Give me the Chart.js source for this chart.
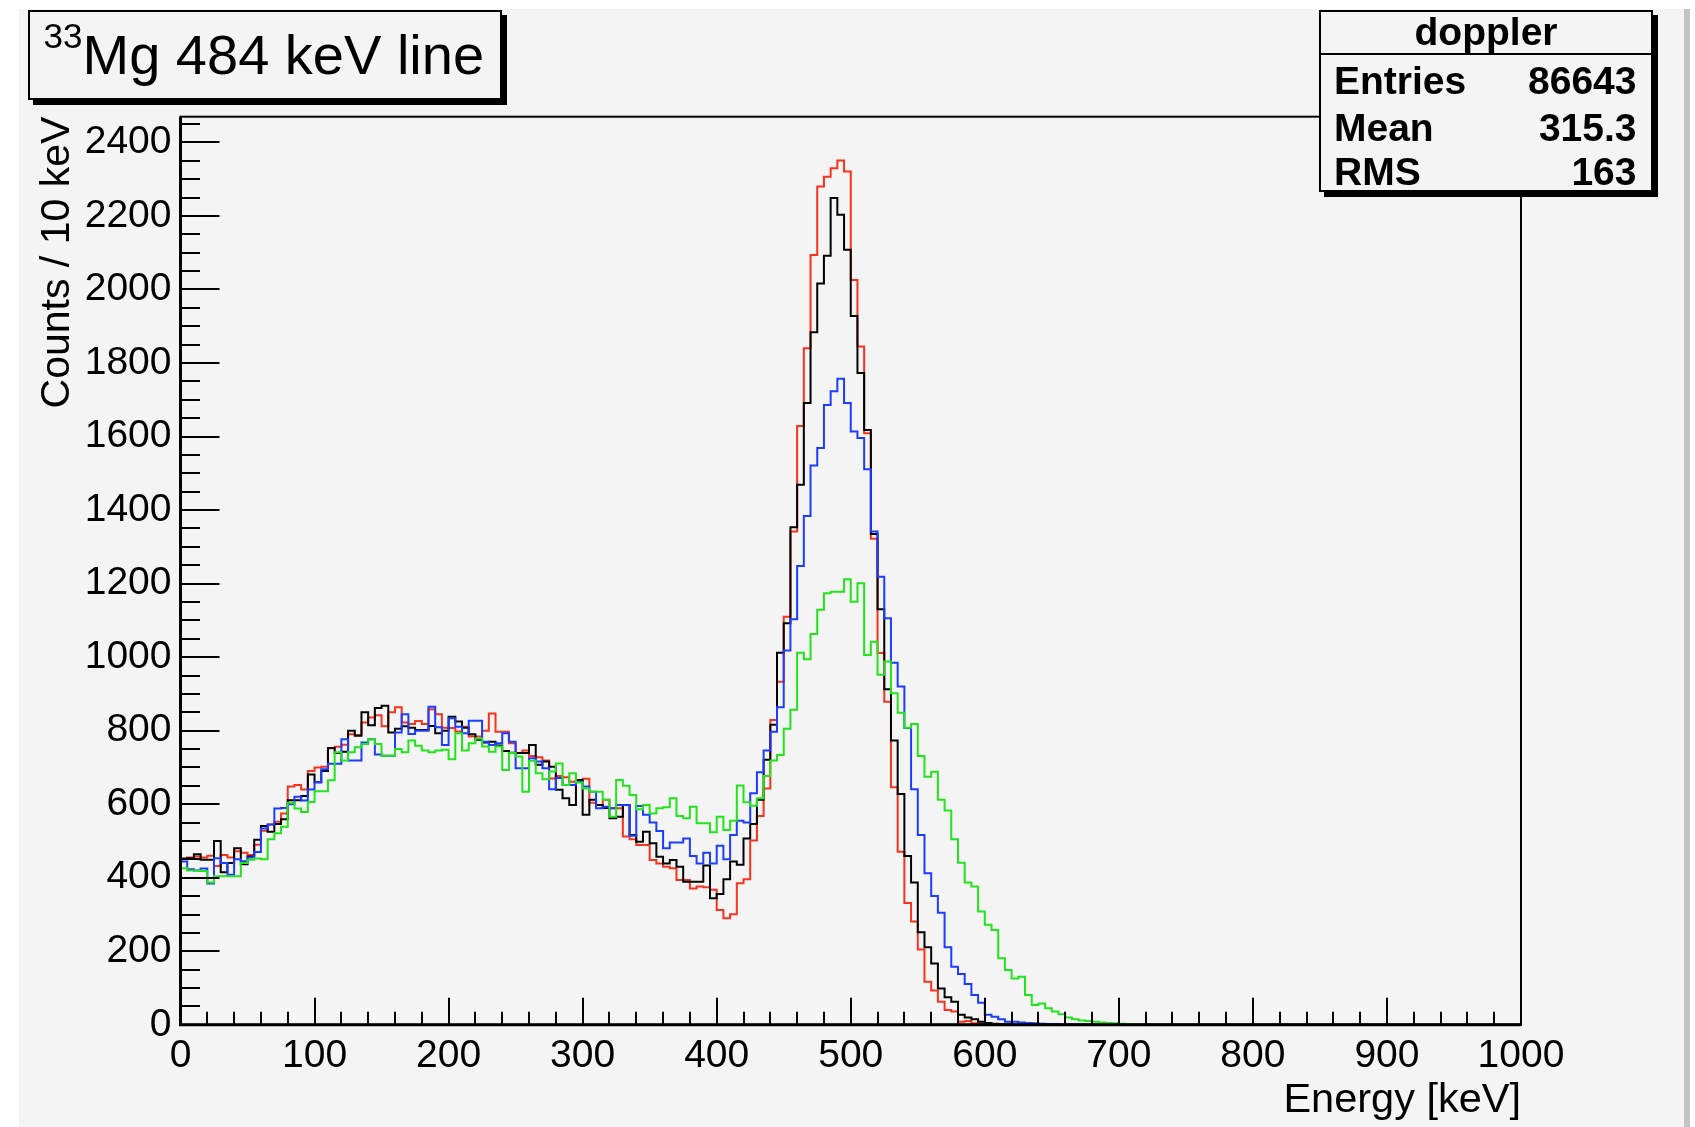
<!DOCTYPE html>
<html>
<head>
<meta charset="utf-8">
<script src="https://cdn.jsdelivr.net/npm/chart.js@4.4.1/dist/chart.umd.min.js"></script>
<style>
  html, body { margin: 0; padding: 0; background: #fff; }
  body { width: 1695px; height: 1127px; position: relative; overflow: hidden;
         font-family: "Liberation Sans", Arial, Helvetica, sans-serif; color: #000; }
  #pad { position: absolute; left: 19px; top: 9px; width: 1665px; height: 1118px;
         background: #f4f4f4; border-right: 6px solid #c4c4c4; }
  #chart { position: absolute; left: 0; top: 0; }
  .box { position: absolute; background: #f4f4f4; border: 2px solid #000;
         box-shadow: 5px 5px 0 #000; box-sizing: border-box; }
  .t { position: absolute; line-height: 1; white-space: nowrap; }
  .b { font-weight: bold; font-size: 39px; }
</style>
</head>
<body>
<div id="pad"></div>
<canvas id="chart" width="1695" height="1127"></canvas>

<div class="box" style="left:28px; top:10px; width:474px; height:90px;">
  <span class="t" style="left:13.5px; top:6px; font-size:35px;">33</span>
  <span class="t" style="left:52.5px; top:14.5px; font-size:56px;">Mg 484 keV line</span>
</div>

<div class="box" style="left:1319px; top:10px; width:334px; height:182px;">
  <span class="t b" style="left:0; width:100%; text-align:center; top:0;">doppler</span>
  <div style="position:absolute; left:0; right:0; top:41px; height:2px; background:#000;"></div>
  <span class="t b" style="left:13px; top:49px;">Entries</span>
  <span class="t b" style="right:14.5px; top:49px;">86643</span>
  <span class="t b" style="left:13px; top:95.5px;">Mean</span>
  <span class="t b" style="right:14.5px; top:95.5px;">315.3</span>
  <span class="t b" style="left:13px; top:140px;">RMS</span>
  <span class="t b" style="right:14.5px; top:140px;">163</span>
</div>

<script>
// 5 keV bins from 0 to 1000 keV (200 bins)
const binWidth = 5;

const red = [
  450, 455, 458, 455, 460, 432, 462, 455, 472, 468,
  462, 490, 528, 545, 552, 575, 648, 652, 640, 690,
  700, 702, 752, 756, 762, 790, 788, 822, 836, 842,
  812, 850, 864, 822, 818, 826, 818, 858, 845, 808,
  807, 798, 811, 784, 784, 800, 847, 797, 797, 766,
  739, 746, 731, 728, 719, 670, 677, 673, 661, 666,
  669, 604, 598, 612, 589, 589, 512, 505, 489, 489,
  448, 439, 430, 426, 394, 394, 371, 376, 374, 367,
  312, 290, 301, 385, 396, 501, 568, 643, 829, 933,
  1110, 1342, 1629, 1840, 2094, 2280, 2307, 2330, 2351, 2321,
  2026, 1845, 1609, 1322, 1011, 879, 646, 471, 331, 281,
  205, 117, 93, 63, 40, 36, 8, 10, 4, 3,
  2, 1, 1, 0, 0, 0, 0, 0, 0, 0,
  0, 0, 0, 0, 0, 0, 0, 0, 0, 0,
  0, 0, 0, 0, 0, 0, 0, 0, 0, 0,
  0, 0, 0, 0, 0, 0, 0, 0, 0, 0,
  0, 0, 0, 0, 0, 0, 0, 0, 0, 0,
  0, 0, 0, 0, 0, 0, 0, 0, 0, 0,
  0, 0, 0, 0, 0, 0, 0, 0, 0, 0,
  0, 0, 0, 0, 0, 0, 0, 0, 0, 0
];

const black = [
  452, 453, 464, 449, 449, 500, 415, 440, 480, 437,
  458, 503, 541, 525, 546, 559, 611, 611, 622, 681,
  660, 690, 753, 739, 743, 800, 786, 850, 815, 862,
  868, 795, 805, 812, 808, 802, 802, 813, 793, 800,
  838, 825, 808, 790, 775, 768, 770, 760, 745, 740,
  739, 739, 761, 707, 716, 702, 639, 616, 598, 666,
  571, 612, 598, 590, 562, 566, 598, 516, 498, 525,
  494, 457, 439, 448, 430, 389, 389, 389, 433, 344,
  356, 396, 444, 435, 507, 546, 612, 721, 816, 1012,
  1092, 1353, 1469, 1691, 1884, 2016, 2092, 2249, 2203, 2108,
  1928, 1773, 1618, 1335, 1130, 913, 773, 628, 459, 387,
  252, 211, 167, 99, 75, 63, 27, 20, 15, 8,
  5, 3, 2, 1, 0, 0, 0, 0, 0, 0,
  0, 0, 0, 0, 0, 0, 0, 0, 0, 0,
  0, 0, 0, 0, 0, 0, 0, 0, 0, 0,
  0, 0, 0, 0, 0, 0, 0, 0, 0, 0,
  0, 0, 0, 0, 0, 0, 0, 0, 0, 0,
  0, 0, 0, 0, 0, 0, 0, 0, 0, 0,
  0, 0, 0, 0, 0, 0, 0, 0, 0, 0,
  0, 0, 0, 0, 0, 0, 0, 0, 0, 0
];

const blue = [
  444, 423, 420, 425, 384, 453, 440, 408, 450, 445,
  455, 470, 534, 545, 588, 590, 600, 620, 610, 640,
  660, 695, 710, 710, 777, 719, 719, 768, 777, 735,
  732, 732, 795, 845, 791, 800, 800, 865, 809, 761,
  834, 811, 793, 827, 827, 770, 761, 766, 793, 770,
  698, 698, 725, 716, 698, 641, 671, 652, 652, 661,
  648, 634, 589, 593, 589, 598, 598, 514, 595, 571,
  550, 527, 480, 496, 496, 507, 459, 439, 468, 439,
  487, 450, 516, 555, 550, 630, 687, 746, 797, 864,
  1018, 1103, 1248, 1384, 1521, 1569, 1686, 1723, 1757, 1691,
  1614, 1596, 1511, 1342, 1219, 1106, 985, 920, 807, 641,
  516, 412, 350, 305, 211, 158, 138, 111, 81, 60,
  27, 22, 15, 8, 8, 6, 5, 4, 3, 2,
  2, 1, 1, 1, 1, 0, 0, 0, 0, 0,
  0, 0, 0, 0, 0, 0, 0, 0, 0, 0,
  0, 0, 0, 0, 0, 0, 0, 0, 0, 0,
  0, 0, 0, 0, 0, 0, 0, 0, 0, 0,
  0, 0, 0, 0, 0, 0, 0, 0, 0, 0,
  0, 0, 0, 0, 0, 0, 0, 0, 0, 0,
  0, 0, 0, 0, 0, 0, 0, 0, 0, 0
];

const green = [
  426, 420, 420, 418, 387, 404, 404, 404, 404, 440,
  449, 452, 450, 505, 521, 539, 604, 588, 579, 606,
  635, 635, 665, 741, 719, 741, 755, 764, 777, 764,
  732, 732, 750, 741, 773, 759, 746, 741, 746, 748,
  722, 793, 746, 766, 779, 757, 743, 757, 693, 739,
  730, 634, 718, 684, 668, 689, 711, 652, 684, 659,
  643, 634, 634, 612, 566, 666, 650, 625, 586, 598,
  575, 589, 592, 616, 568, 562, 593, 548, 548, 524,
  566, 530, 555, 651, 605, 596, 616, 677, 719, 734,
  805, 857, 1012, 994, 1063, 1129, 1174, 1178, 1178, 1212,
  1151, 1201, 1006, 1042, 952, 988, 902, 849, 808, 818,
  731, 675, 688, 612, 583, 505, 441, 387, 376, 308,
  272, 258, 181, 149, 126, 131, 81, 54, 58, 45,
  36, 29, 20, 15, 12, 10, 8, 6, 5, 4,
  3, 2, 2, 1, 1, 0, 0, 0, 0, 0,
  0, 0, 0, 0, 0, 0, 0, 0, 0, 0,
  0, 0, 0, 0, 0, 0, 0, 0, 0, 0,
  0, 0, 0, 0, 0, 0, 0, 0, 0, 0,
  0, 0, 0, 0, 0, 0, 0, 0, 0, 0,
  0, 0, 0, 0, 0, 0, 0, 0, 0, 0
];

const xLabels = [0, 100, 200, 300, 400, 500, 600, 700, 800, 900, 1000];
const yLabels = [0, 200, 400, 600, 800, 1000, 1200, 1400, 1600, 1800, 2000, 2200, 2400];
const xMinorStep = 20;
const yMinorStep = 50;
const xMax = 1000;
const yMax = 2470;

const FONT = "'Liberation Sans', Arial, Helvetica, sans-serif";
Chart.defaults.font.family = FONT;
Chart.defaults.color = "#000";

// histogram outline: one point per bin low edge, plus the upper edge of the last bin
function toSteps(values) {
  const pts = values.map((v, i) => ({ x: i * binWidth, y: v }));
  pts.push({ x: values.length * binWidth, y: values[values.length - 1] });
  return pts;
}

function tickList(max, step) {
  const out = [];
  for (let v = 0; v <= max; v += step) out.push({ value: v });
  return out;
}

function histo(data, color, order) {
  return {
    data: toSteps(data),
    borderColor: color,
    borderWidth: 2,
    stepped: "before",   // horizontal across the bin, then vertical at its upper edge
    pointRadius: 0,
    fill: false,
    order: order
  };
}

// ROOT style frame with inward ticks
const rootFrame = {
  id: "rootFrame",
  afterDatasetsDraw(chart) {
    const { ctx, chartArea: a, scales: { x, y } } = chart;
    ctx.save();
    ctx.strokeStyle = "#000";
    ctx.lineWidth = 2;
    ctx.strokeRect(a.left, a.top, a.right - a.left, a.bottom - a.top);
    ctx.lineWidth = 3;
    ctx.beginPath();
    ctx.moveTo(a.left, a.top);
    ctx.lineTo(a.left, a.bottom);
    ctx.lineTo(a.right, a.bottom);
    ctx.stroke();

    ctx.lineWidth = 2;
    ctx.beginPath();
    y.ticks.forEach(t => {
      const py = Math.round(y.getPixelForValue(t.value));
      const len = yLabels.includes(t.value) ? 39 : 19.5;
      ctx.moveTo(a.left, py);
      ctx.lineTo(a.left + len, py);
    });
    x.ticks.forEach(t => {
      const px = Math.round(x.getPixelForValue(t.value));
      const len = xLabels.includes(t.value) ? 27 : 13;
      ctx.moveTo(px, a.bottom);
      ctx.lineTo(px, a.bottom - len);
    });
    ctx.stroke();
    ctx.restore();
  }
};

new Chart(document.getElementById("chart"), {
  type: "line",
  data: {
    datasets: [
      histo(red, "#f8321c", 4),
      histo(black, "#000000", 3),
      histo(blue, "#1c3cff", 2),
      histo(green, "#22e41c", 1)
    ]
  },
  options: {
    responsive: false,
    animation: false,
    devicePixelRatio: 1,
    layout: { padding: { left: 20.5, top: 116.7, right: 174, bottom: 0 } },
    plugins: { legend: { display: false }, tooltip: { enabled: false } },
    scales: {
      x: {
        type: "linear",
        min: 0,
        max: xMax,
        afterFit: s => { s.height = 102.2; },
        afterBuildTicks: s => { s.ticks = tickList(xMax, xMinorStep); },
        grid: { display: false },
        border: { display: false },
        ticks: {
          autoSkip: false,
          maxRotation: 0,
          padding: 0,
          font: { size: 39 },
          callback: v => xLabels.includes(v) ? String(v) : ""
        },
        title: {
          display: true,
          text: "Energy [keV]",
          align: "end",
          font: { size: 41.5 },
          padding: { top: 0, bottom: 2 }
        }
      },
      y: {
        type: "linear",
        min: 0,
        max: yMax,
        afterFit: s => { s.width = 160; },
        afterBuildTicks: s => { s.ticks = tickList(yMax, yMinorStep); },
        grid: { display: false },
        border: { display: false },
        ticks: {
          autoSkip: false,
          padding: 1,
          font: { size: 39 },
          callback: v => yLabels.includes(v) ? String(v) : ""
        },
        title: {
          display: true,
          text: "Counts / 10 keV",
          align: "end",
          font: { size: 41 },
          padding: { top: 12.5, bottom: 0 }
        }
      }
    }
  },
  plugins: [rootFrame]
});
</script>
</body>
</html>
